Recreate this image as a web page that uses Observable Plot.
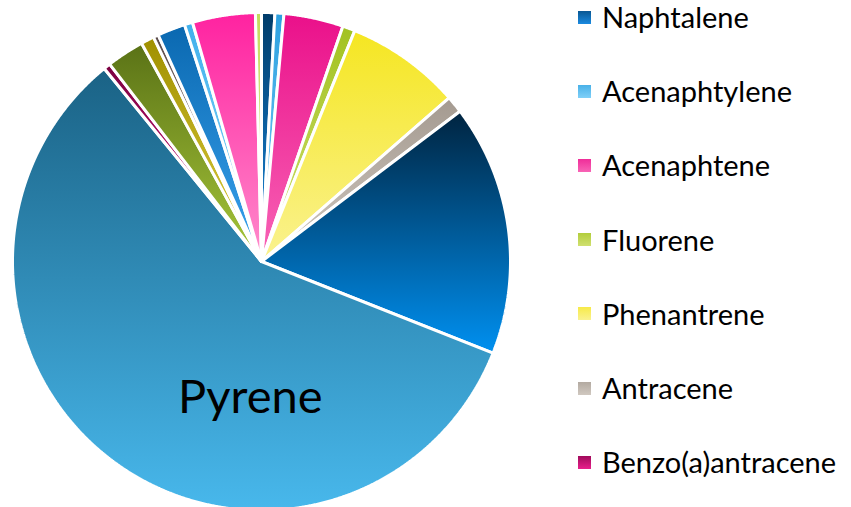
<!DOCTYPE html>
<html><head><meta charset="utf-8">
<script src="https://cdn.jsdelivr.net/npm/d3@7"></script>
<script src="https://cdn.jsdelivr.net/npm/@observablehq/plot@0.6"></script>
<style>
html,body{margin:0;padding:0;background:#fff;overflow:hidden;}
#wrap{position:relative;width:851px;height:507px;font-family:Lato,"Open Sans",sans-serif;}
#chart{position:absolute;left:0;top:0;}
.leg{position:absolute;left:578px;display:flex;align-items:center;height:40px;font-size:29px;line-height:40px;color:#000;white-space:nowrap;}
.sw{width:13px;height:13px;margin-right:11px;flex:none;}
</style></head><body><div id="wrap"><div id="chart"></div><div id="legend"></div></div>
<script>
// Categories (clockwise from 12 o'clock)
const compounds = ["Naphtalene","Acenaphtylene","Acenaphtene","Fluorene","Phenantrene","Antracene",
  "Fluoranthene","Pyrene","Benzo(a)antracene","Chrysene","Benzo(b)fluoranthene","Benzo(k)fluoranthene",
  "Benzo(a)pyrene","Dibenzo(a,h)antracene","Benzo(g,h,i)perylene","Indeno(1,2,3-cd)pyrene"];
// Shares (%)
const shares = [0.86,0.58,3.86,0.81,7.47,1.11,16.31,58.11,0.44,2.44,0.86,0.33,1.81,0.53,4.08,0.39];
// Gradient colours (top -> bottom) per slice
const colorTop = ["#003c6a","#2ca0e0","#ea108a","#a2c220","#f5e621","#a49a90","#002440","#1a6285",
  "#7a0040","#5a7216","#a09000","#5a4a4a","#0a68b0","#40b0ec","#ff22a0","#c4da5c"];
const colorBottom = ["#1a8ae0","#80d0f8","#f864b6","#d0e070","#faf290","#d0c8c0","#0090f0","#48b8ec",
  "#e8208c","#a8c83a","#e0d040","#c0b0a8","#3aa4f0","#90d8fa","#ff8ccc","#e6f2a8"];
// Legend entries shown in the picture
const legendEntries = ["Naphtalene","Acenaphtylene","Acenaphtene","Fluorene","Phenantrene","Antracene","Benzo(a)antracene"];
const sliceLabel = "Pyrene";

const arcs = d3.pie().sort(null).startAngle(0).endAngle(2 * Math.PI).value((d, i) => shares[i])(compounds);
const rows = [];
arcs.forEach((a, i) => {
  const fill = `url(#grad${i})`;
  rows.push({name: a.data, x: 0, y: 0, fill});
  const n = Math.max(2, Math.ceil((a.endAngle - a.startAngle) / 0.004));
  for (let k = 0; k <= n; k++) {
    const t = a.startAngle + (a.endAngle - a.startAngle) * k / n;
    rows.push({name: a.data, x: Math.sin(t), y: Math.cos(t), fill});
  }
  rows.push({name: a.data, x: 0, y: 0, fill});
});

const R = 249, cx = 261, cy = 261, W = 560, H = 507;
const plot = Plot.plot({
  width: W, height: H, margin: 0,
  style: {fontFamily: "Lato, 'Open Sans', sans-serif", background: "transparent", overflow: "hidden"},
  x: {domain: [-cx / R, (W - cx) / R], axis: null},
  y: {domain: [-(H - cy) / R, cy / R], axis: null},
  color: {type: "identity"},
  marks: [
    Plot.line(rows, {x: "x", y: "y", z: "name", fill: "fill", stroke: "white", strokeWidth: 3, strokeLinejoin: "miter"}),
    Plot.text([sliceLabel], {x: () => -0.045, y: () => -0.55, text: d => d, fontSize: 47, fill: "black", textAnchor: "middle"})
  ]
});
const svg = d3.select(plot);
const defs = svg.insert("defs", ":first-child");
compounds.forEach((c, i) => {
  const g = defs.append("linearGradient").attr("id", "grad" + i).attr("x1", 0).attr("y1", 0).attr("x2", 0).attr("y2", 1);
  g.append("stop").attr("offset", 0).attr("stop-color", colorTop[i]);
  g.append("stop").attr("offset", 1).attr("stop-color", colorBottom[i]);
});
document.getElementById("chart").appendChild(plot);

const leg = document.getElementById("legend");
legendEntries.forEach((name, j) => {
  const i = compounds.indexOf(name);
  const row = document.createElement("div");
  row.className = "leg";
  row.style.top = (17 + j * 74.2 - 20) + "px";
  const sw = document.createElement("div");
  sw.className = "sw";
  const mid = d3.interpolateRgb(colorTop[i], colorBottom[i])(0.35);
  sw.style.background = `linear-gradient(${mid}, ${colorBottom[i]})`;
  const tx = document.createElement("span");
  tx.textContent = name;
  row.appendChild(sw); row.appendChild(tx);
  leg.appendChild(row);
});
</script></body></html>
